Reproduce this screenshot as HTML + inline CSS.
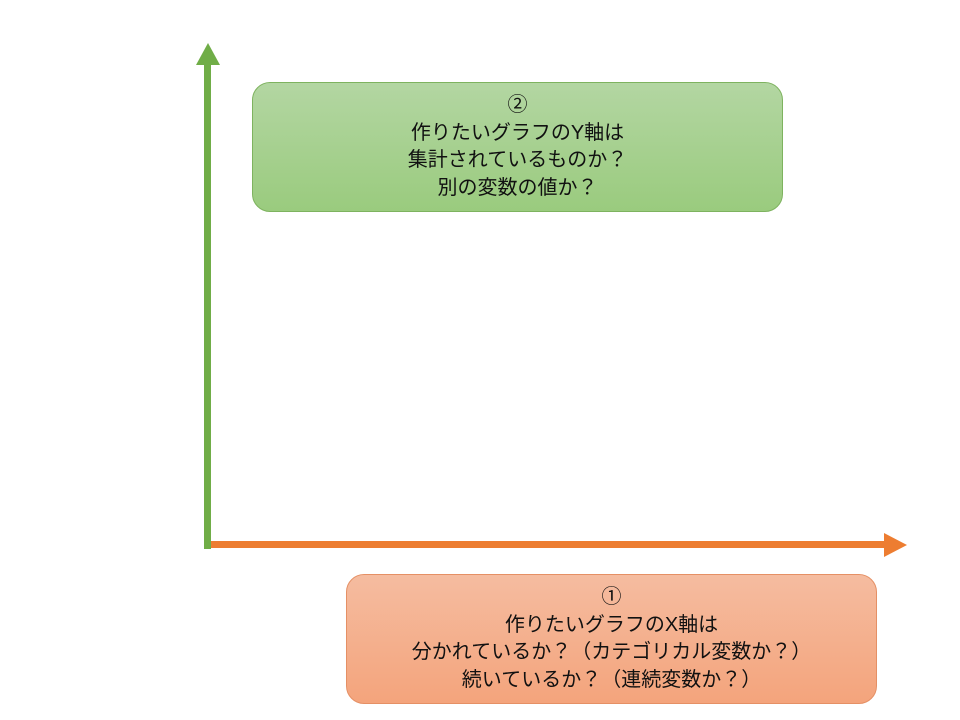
<!DOCTYPE html>
<html><head><meta charset="utf-8"><style>
html,body{margin:0;padding:0;background:#fff;width:960px;height:720px;overflow:hidden;position:relative}
.box{position:absolute;box-sizing:border-box;border-radius:18px;display:flex;flex-direction:column;justify-content:center;align-items:center;text-align:center;font-family:"Liberation Sans","Noto Sans CJK JP",sans-serif;font-size:20px;line-height:27.5px;color:#111}
.g{left:252px;top:82px;width:531px;height:130px;background:linear-gradient(#b3d6a2,#9acb7e);border:1px solid #7eb35f}
.o{left:346px;top:574px;width:531px;height:130px;background:linear-gradient(#f5bca0,#f4a47c);border:1px solid #e59065}
</style></head><body>
<svg width="960" height="720" style="position:absolute;left:0;top:0">
<rect x="204" y="62" width="7" height="487" fill="#70ad47"/>
<polygon points="196,65 220,65 208,43" fill="#70ad47"/>
<rect x="211" y="541" width="676" height="7" fill="#ed7d31"/>
<polygon points="884,533 884,557 907,545" fill="#ed7d31"/>
</svg>
<div class="box g"><div>②</div><div>作りたいグラフのY軸は</div><div>集計されているものか？</div><div>別の変数の値か？</div></div>
<div class="box o"><div>①</div><div>作りたいグラフのX軸は</div><div>分かれているか？（カテゴリカル変数か？）</div><div>続いているか？（連続変数か？）</div></div>
</body></html>
